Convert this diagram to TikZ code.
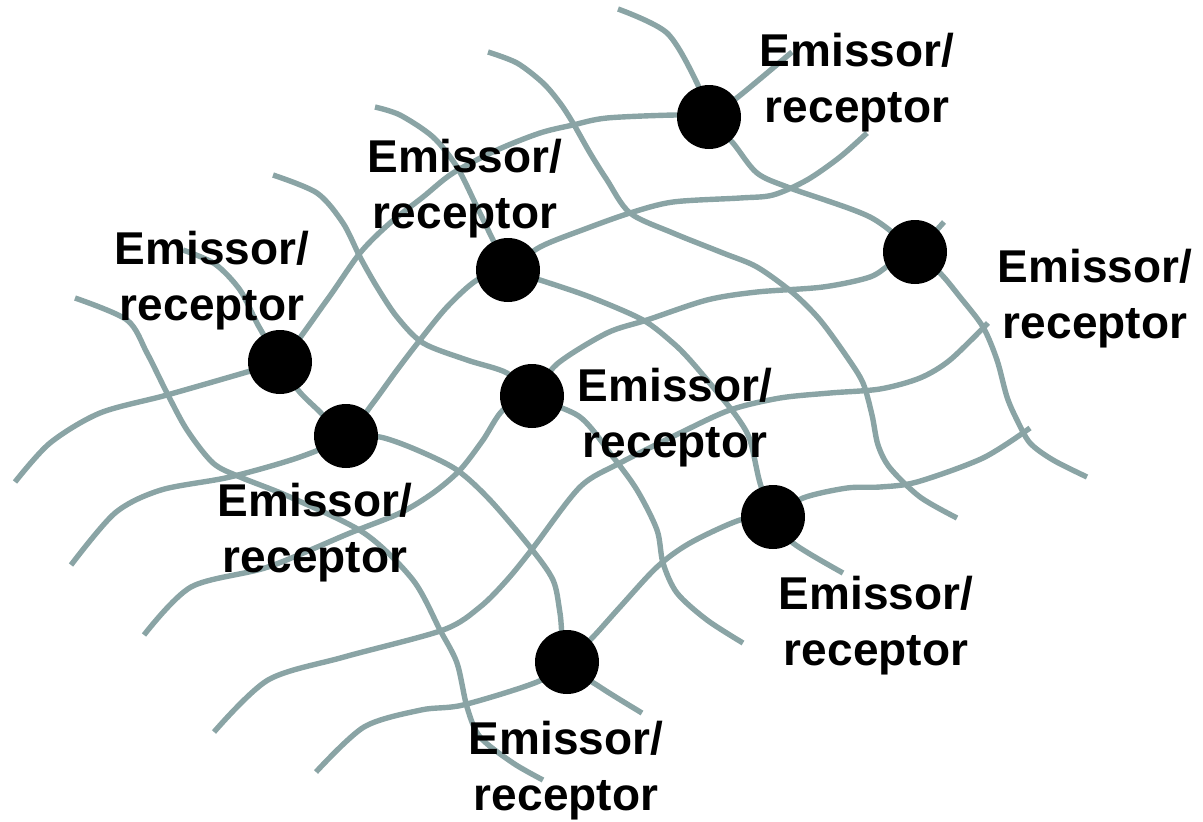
\documentclass[tikz,border=0pt]{standalone}
\usepackage{fontspec}
\setmainfont{Liberation Sans}
\definecolor{wire}{RGB}{138,164,165}
\begin{document}
\begin{tikzpicture}[x=1pt,y=-1pt,
  wireline/.style={draw=wire,line width=5.4pt},
  dot/.style={circle,fill=black,minimum size=64pt,inner sep=0pt},
  lbl/.style={align=center,inner sep=0pt,font=\bfseries\fontsize{46}{56}\selectfont}]
\useasboundingbox (0,0) rectangle (1203,822);
% dot positions
\coordinate (D1) at (280,362);
\coordinate (D2) at (346,436);
\coordinate (D3) at (508,270);
\coordinate (D4) at (532,396);
\coordinate (D5) at (709,117);
\coordinate (D6) at (915,252);
\coordinate (D7) at (773,517);
\coordinate (D8) at (567,662);
% rising wires
\draw[wireline] plot[smooth] coordinates {(15,482) (50,443) (100,413) (167,395) (247,372) (D1) (327,300) (360,253) (390,223) (423,197) (453,173) (497,150) (540,133) (573,125) (607,118) (677,115) (D5) (738,97) (792,52)};
\draw[wireline] plot[smooth] coordinates {(71,565) (115,513) (161,490) (230,477) (300,457) (D2) (373,403) (397,370) (420,340) (447,307) (477,280) (D3) (540,247) (585,229) (630,213) (673,202) (740,198) (773,195) (807,180) (840,157) (867,133)};
\draw[wireline] plot[smooth] coordinates {(144,635) (191,587) (268,567) (350,533) (400,513) (433,493) (460,470) (483,440) (503,410) (D4) (557,364) (607,333) (647,320) (707,300) (757,292) (823,287) (870,277) (892,263) (D6) (944,222)};
\draw[wireline] plot[smooth] coordinates {(214,732) (268,680) (344,657) (443,630) (480,607) (507,580) (533,548) (580,487) (620,463) (680,433) (730,410) (780,398) (830,393) (880,389) (920,378) (950,360) (988,323)};
\draw[wireline] plot[smooth] coordinates {(316,772) (364,727) (421,710) (463,705) (537,682) (D8) (593,637) (620,607) (657,567) (690,543) (740,520) (D7) (803,498) (847,488) (880,487) (917,482) (983,458) (1030,428)};
% falling wires
\draw[wireline] plot[smooth] coordinates {(75,298) (127,320) (147,353) (167,393) (187,430) (213,463) (240,477) (290,497) (364,533) (413,580) (440,630) (457,663) (467,707) (480,737) (513,763) (543,780)};
\draw[wireline] plot[smooth] coordinates {(183,250) (215,264) (240,290) (258,325) (D1) (298,390) (318,410) (D2) (380,437) (417,450) (457,470) (490,500) (530,547) (553,580) (560,613) (D8) (600,687) (642,713)};
\draw[wireline] plot[smooth] coordinates {(273,175) (317,193) (343,223) (360,257) (377,287) (397,317) (423,343) (467,360) (507,373) (D4) (580,417) (613,457) (637,490) (657,530) (663,563) (677,593) (707,620) (743,643)};
\draw[wireline] plot[smooth] coordinates {(375,107) (400,115) (433,137) (457,167) (477,207) (493,240) (D3) (540,280) (590,297) (643,320) (673,343) (690,360) (713,387) (737,417) (750,440) (760,483) (D7) (793,543) (843,573)};
\draw[wireline] plot[smooth] coordinates {(488,52) (517,63) (543,83) (560,103) (573,123) (590,153) (607,180) (630,213) (673,233) (723,253) (757,267) (793,293) (820,320) (847,357) (863,383) (872,415) (878,445) (890,468) (920,497) (957,518)};
\draw[wireline] plot[smooth] coordinates {(618,9) (667,33) (697,83) (D5) (733,143) (757,173) (790,188) (870,217) (D6) (940,273) (960,297) (983,327) (997,360) (1007,397) (1017,420) (1030,443) (1053,460) (1087,477)};
% dots
\foreach \n in {1,...,8} \node[dot] (N\n) at (D\n) {};
% labels
\node[lbl] (L5) at (857,82.6) {Emissor/\\receptor};
\node[lbl] (L3) at (465,188.6) {Emissor/\\receptor};
\node[lbl] (L1) at (212,280.6) {Emissor/\\receptor};
\node[lbl] (L6) at (1095,298.6) {Emissor/\\receptor};
\node[lbl] (L4) at (675,417.6) {Emissor/\\receptor};
\node[lbl] (L2) at (315,532.6) {Emissor/\\receptor};
\node[lbl] (L7) at (876,625.6) {Emissor/\\receptor};
\node[lbl] (L8) at (566,770.6) {Emissor/\\receptor};
\end{tikzpicture}
\end{document}
